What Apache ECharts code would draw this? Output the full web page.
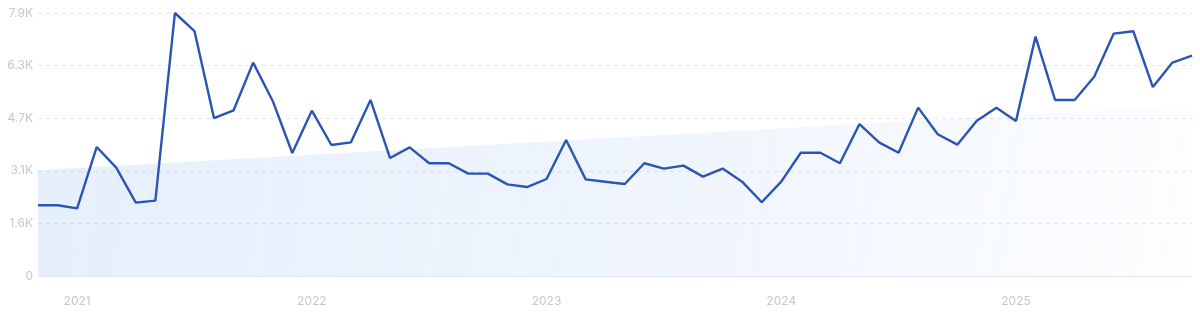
<!DOCTYPE html>
<html>
<head>
<meta charset="utf-8">
<script src="https://cdn.jsdelivr.net/npm/echarts@6/dist/echarts.min.js"></script>
<style>
html,body{margin:0;padding:0;background:#fff;}
#chart{width:1200px;height:313px;}
</style>
</head>
<body>
<div id="chart"></div>
<script>
const categories = [
 '2020-11','2020-12',
 '2021-01','2021-02','2021-03','2021-04','2021-05','2021-06','2021-07','2021-08','2021-09','2021-10','2021-11','2021-12',
 '2022-01','2022-02','2022-03','2022-04','2022-05','2022-06','2022-07','2022-08','2022-09','2022-10','2022-11','2022-12',
 '2023-01','2023-02','2023-03','2023-04','2023-05','2023-06','2023-07','2023-08','2023-09','2023-10','2023-11','2023-12',
 '2024-01','2024-02','2024-03','2024-04','2024-05','2024-06','2024-07','2024-08','2024-09','2024-10','2024-11','2024-12',
 '2025-01','2025-02','2025-03','2025-04','2025-05','2025-06','2025-07','2025-08','2025-09','2025-10'
];
const volume = [
 2110,2110,
 2020,3850,3235,2190,2250,7850,7310,4710,4945,6370,5225,3670,
 4935,3910,3990,5255,3520,3840,3365,3365,3055,3055,2735,2655,
 2895,4060,2885,2815,2745,3365,3205,3295,2965,3205,2815,2200,
 2815,3680,3680,3365,4535,3990,3680,5025,4230,3920,4635,5025,
 4625,7145,5255,5255,5950,7235,7305,5640,6370,6575
];
const trendStart = 3155;
const trendEnd = 5095;
const yTickValues = [0, 1570, 3140, 4710, 6280, 7850];
const yTickLabels = ['0', '1.6K', '3.1K', '4.7K', '6.3K', '7.9K'];

const chart = echarts.init(document.getElementById('chart'), null, {renderer: 'canvas'});
const labelColor = '#c4c8d0';
chart.setOption({
  animation: false,
  grid: {left: 38, right: 8, top: 13, bottom: 37, containLabel: false},
  xAxis: {
    type: 'category',
    data: categories,
    boundaryGap: false,
    axisLine: {show: true, lineStyle: {color: '#e4e8f0', width: 1}},
    axisTick: {show: false},
    axisLabel: {
      color: labelColor,
      fontFamily: 'Inter',
      fontSize: 12,
      margin: 19,
      interval: function (idx, val) { return val.slice(5) === '01'; },
      formatter: function (val) { return val.slice(0, 4); }
    },
    splitLine: {show: false}
  },
  yAxis: {
    type: 'value',
    min: yTickValues[0],
    max: yTickValues[yTickValues.length - 1],
    interval: yTickValues[1] - yTickValues[0],
    axisLine: {show: false},
    axisTick: {show: false},
    axisLabel: {
      color: labelColor,
      fontFamily: 'Inter',
      fontSize: 12,
      margin: 5,
      formatter: function (v) {
        const i = yTickValues.findIndex(t => Math.abs(t - v) < 1);
        return i >= 0 ? yTickLabels[i] : '';
      }
    },
    splitLine: {show: true, lineStyle: {color: '#e6e8ec', type: [4, 4], width: 1}}
  },
  series: [
    {
      type: 'line',
      data: [[categories[0], trendStart], [categories[categories.length - 1], trendEnd]],
      showSymbol: false,
      lineStyle: {width: 0, opacity: 0},
      areaStyle: {
        color: new echarts.graphic.LinearGradient(0, 0, 1, 1, [
          {offset: 0, color: 'rgba(86,146,236,0.21)'},
          {offset: 0.55, color: 'rgba(86,146,236,0.13)'},
          {offset: 1, color: 'rgba(86,146,236,0.02)'}
        ])
      },
      z: 1,
      silent: true
    },
    {
      type: 'line',
      data: volume,
      showSymbol: false,
      smooth: false,
      lineStyle: {color: '#2c54b4', width: 2.4},
      z: 3
    }
  ]
});
</script>
</body>
</html>
